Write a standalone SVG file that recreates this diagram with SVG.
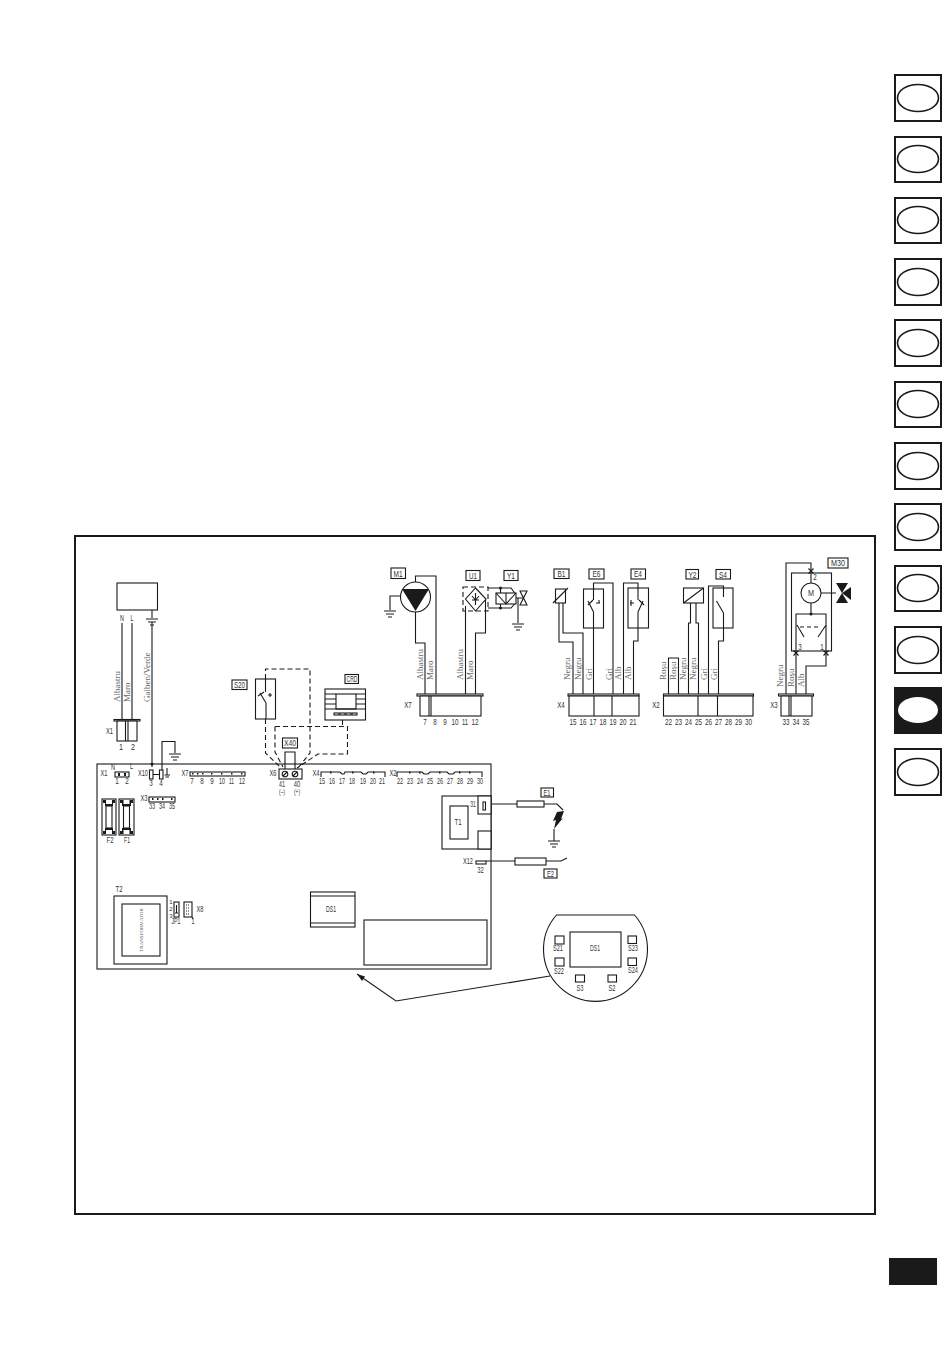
<svg xmlns="http://www.w3.org/2000/svg" width="950" height="1360" viewBox="0 0 950 1360">
<style>
.l{fill:none;stroke:#1a1a1a;stroke-width:1.1}
.b{fill:#fff;stroke:#1a1a1a;stroke-width:1.1}
.d{fill:none;stroke:#1a1a1a;stroke-width:1.1;stroke-dasharray:5 3}
.k{fill:#1a1a1a;stroke:none}
.tab{fill:#fff;stroke:#1a1a1a;stroke-width:2}
.el{fill:#fff;stroke:#1a1a1a;stroke-width:1.6}
text{font-family:"Liberation Sans","Arial",sans-serif;font-size:9px;fill:#333;text-anchor:middle}
.w{font-family:"Liberation Serif",serif;font-size:9px;fill:#666;text-anchor:start}
.s{font-size:8.500px}
</style>
<defs>
<g id="gnd"><path class="l" d="M-6 0H6M-4 3H4M-2 6H2"/></g>
<g id="cross"><path class="l" d="M-2.500 -2.500L2.500 2.500M-2.500 2.500L2.500 -2.500"/></g>
</defs>
<rect width="950" height="1360" fill="#fff"/>

<g id="tabs">
<rect class="tab" x="895" y="75" width="46" height="46"/><ellipse class="el" cx="918" cy="98" rx="20.500" ry="13.500"/>
<rect class="tab" x="895" y="137" width="46" height="45"/><ellipse class="el" cx="918" cy="159" rx="20.500" ry="13.500"/>
<rect class="tab" x="895" y="198" width="46" height="45"/><ellipse class="el" cx="918" cy="220" rx="20.500" ry="13.500"/>
<rect class="tab" x="895" y="259" width="46" height="46"/><ellipse class="el" cx="918" cy="282" rx="20.500" ry="13.500"/>
<rect class="tab" x="895" y="320" width="46" height="46"/><ellipse class="el" cx="918" cy="343" rx="20.500" ry="13.500"/>
<rect class="tab" x="895" y="382" width="46" height="45"/><ellipse class="el" cx="918" cy="404" rx="20.500" ry="13.500"/>
<rect class="tab" x="895" y="443" width="46" height="46"/><ellipse class="el" cx="918" cy="466" rx="20.500" ry="13.500"/>
<rect class="tab" x="895" y="504" width="46" height="46"/><ellipse class="el" cx="918" cy="527" rx="20.500" ry="13.500"/>
<rect class="tab" x="895" y="566" width="46" height="45"/><ellipse class="el" cx="918" cy="588" rx="20.500" ry="13.500"/>
<rect class="tab" x="895" y="627" width="46" height="46"/><ellipse class="el" cx="918" cy="650" rx="20.500" ry="13.500"/>
<rect x="894" y="687" width="48" height="47" class="k"/><ellipse cx="918" cy="710" rx="20" ry="13" fill="#fff"/>
<rect class="tab" x="895" y="749" width="46" height="46"/><ellipse class="el" cx="918" cy="772" rx="20.500" ry="13.500"/>
<rect x="889" y="1258" width="48" height="27" class="k"/>
</g>

<rect id="frame" x="75" y="536" width="800" height="678" fill="none" stroke="#1a1a1a" stroke-width="2"/>

<g id="connectors">
<path class="l" d="M122 623V720M132 623V720M152 622V767M162 771V741.500H175V753"/>
<use href="#gnd" x="175" y="754"/>
<path class="d" d="M265.500 719V753L280 767M275 726.500V752L283 767M265.500 679V669H310V753L298 768M275 726.500H347.500V754H318L297 768M342.500 720V726.500"/>
<path class="l" d="M285 769V752H295V769"/>
<path class="l" d="M390 610V596H400M415.500 611V643H425V694M415.500 583V576H436V694"/>
<use href="#gnd" x="390" y="611"/>
<path class="l" d="M465.500 606V694M485.500 600V633H475.500V694M488 588H511L515.500 594M488 608H511L515.500 603M500.500 588V593M500.500 604V608M515.500 598H523M518 598V623"/>
<use href="#gnd" x="518" y="624"/>
<path class="l" d="M559 603V642H573V694M563 603V633H583V694M593.500 694V628M593.500 589V583H613V694M623.500 694V583H638V588M638 628V641H633.500V694"/>
<path class="l" d="M668.500 694V658H678.500V694M690.500 603V623H688.500V694M696 603V623H698.500V694M708.500 694V586H723.500V597M723.500 613V641H718.500V694"/>
<path class="l" d="M786 694V563H811V583M796 651V694M826 651V666H806V694M811 603V614M821 593H836"/>
<circle class="k" cx="152" cy="764" r="1.500"/>
<circle class="k" cx="500.500" cy="588" r="1.500"/><circle class="k" cx="500.500" cy="608" r="1.500"/>
<path class="l" d="M485 804H517M544 804H557L563 810M554 829V841M486 861H515M546 861H561L567 858"/>
<use href="#gnd" x="554" y="841"/>
<path class="l" d="M550 976L396 1001L357 974"/><path class="k" d="M357 974L365 976.500L362 981Z"/>
</g>

<g id="mains"><rect class="b" x="117" y="583" width="40.500" height="27"/>
<path class="l" d="M152 610V618"/><use href="#gnd" x="152" y="619"/>
<text class="s" x="122" y="621" textLength="4" lengthAdjust="spacingAndGlyphs">N</text><text class="s" x="132" y="621" textLength="3" lengthAdjust="spacingAndGlyphs">L</text></g>

<g id="wire-labels">
<text class="w" transform="translate(120,702) rotate(-90)">Albastru</text>
<text class="w" transform="translate(129.500,702) rotate(-90)">Maro</text>
<text class="w" transform="translate(150,702) rotate(-90)">Galben/Verde</text>
<text class="w" transform="translate(423,680) rotate(-90)">Albastru</text>
<text class="w" transform="translate(433,680) rotate(-90)">Maro</text>
<text class="w" transform="translate(463,680) rotate(-90)">Albastru</text>
<text class="w" transform="translate(473,680) rotate(-90)">Maro</text>
<text class="w" transform="translate(570,680) rotate(-90)">Negru</text>
<text class="w" transform="translate(581,680) rotate(-90)">Negru</text>
<text class="w" transform="translate(592,680) rotate(-90)">Gri</text>
<text class="w" transform="translate(612,680) rotate(-90)">Gri</text>
<text class="w" transform="translate(621,680) rotate(-90)">Alb</text>
<text class="w" transform="translate(631,680) rotate(-90)">Alb</text>
<text class="w" transform="translate(666,680) rotate(-90)">Roșu</text>
<text class="w" transform="translate(676,680) rotate(-90)">Roșu</text>
<text class="w" transform="translate(686,680) rotate(-90)">Negru</text>
<text class="w" transform="translate(696,680) rotate(-90)">Negru</text>
<text class="w" transform="translate(707,680) rotate(-90)">Gri</text>
<text class="w" transform="translate(717,680) rotate(-90)">Gri</text>
<text class="w" transform="translate(783,687) rotate(-90)">Negru</text>
<text class="w" transform="translate(794,687) rotate(-90)">Roșu</text>
<text class="w" transform="translate(804,687) rotate(-90)">Alb</text>
</g>

<g id="X1-plug"><rect class="b" x="114" y="719.500" width="26" height="1.500"/><rect class="b" x="117" y="721" width="20" height="20"/><path class="l" d="M125.500 721V741M128 721V741"/>
<text x="109.500" y="734" textLength="7" lengthAdjust="spacingAndGlyphs">X1</text><text x="121" y="750" textLength="4" lengthAdjust="spacingAndGlyphs">1</text><text x="133" y="750" textLength="4" lengthAdjust="spacingAndGlyphs">2</text></g>

<g id="S20"><rect class="b" x="255.500" y="679" width="20" height="40"/>
<rect class="l" x="232" y="680" width="15" height="9.500"/><text class="s" x="239.500" y="688" textLength="11" lengthAdjust="spacingAndGlyphs">S20</text>
<path class="l" d="M265.500 679V692M266 703L260 693M258 696L264 692M268 695H272M270 693V697M266 703V719"/></g>

<g id="CRD"><rect class="b" x="325" y="689" width="40.500" height="31"/><rect class="b" x="336" y="694" width="20" height="15"/>
<path class="l" d="M325 694H336M356 694H365.500M325 699H336M356 699H365.500M325 704H336M356 704H365.500M325 709H365.500"/>
<rect class="l" x="334" y="713" width="5" height="2"/><rect class="l" x="340" y="713" width="5" height="2"/><rect class="l" x="346" y="713" width="5" height="2"/><rect class="l" x="352" y="713" width="5" height="2"/>
<rect class="l" x="345" y="674.500" width="13.500" height="9"/><text class="s" x="352" y="682" textLength="11" lengthAdjust="spacingAndGlyphs">CRD</text></g>

<g id="X40"><rect class="b" x="282.500" y="738" width="15" height="10"/><text class="s" x="290" y="746" textLength="12" lengthAdjust="spacingAndGlyphs">X40</text></g>

<g id="M1"><rect class="l" x="391" y="568" width="14.500" height="10.500"/><text class="s" x="398" y="576.500" textLength="9" lengthAdjust="spacingAndGlyphs">M1</text>
<circle class="b" cx="415.500" cy="597" r="15"/><path class="k" d="M402 589H429L415.500 611Z"/>
<rect class="b" x="417" y="694" width="66" height="2"/><rect class="b" x="420" y="696" width="61" height="20"/><path class="l" d="M429 696V716M431 696V716"/>
<text x="408" y="708" textLength="7.500" lengthAdjust="spacingAndGlyphs">X7</text><text x="425" y="725" textLength="3.500" lengthAdjust="spacingAndGlyphs">7</text><text x="435" y="725" textLength="3.500" lengthAdjust="spacingAndGlyphs">8</text><text x="445" y="725" textLength="3.500" lengthAdjust="spacingAndGlyphs">9</text><text x="455" y="725" textLength="7" lengthAdjust="spacingAndGlyphs">10</text><text x="465" y="725" textLength="6" lengthAdjust="spacingAndGlyphs">11</text><text x="475" y="725" textLength="7" lengthAdjust="spacingAndGlyphs">12</text></g>

<g id="U1"><rect class="l" x="466" y="570.500" width="14" height="10"/><text class="s" x="473" y="578.500" textLength="8" lengthAdjust="spacingAndGlyphs">U1</text>
<rect class="d" x="463" y="587" width="25" height="24"/>
<path class="b" d="M475.500 588L486 599L475.500 611L465.500 599Z"/><path class="l" d="M475.500 593V605M472 600H479M472 596L475.500 600L479 596"/></g>

<g id="Y1"><rect class="l" x="504" y="570.500" width="14" height="10"/><text class="s" x="511" y="578.500" textLength="8" lengthAdjust="spacingAndGlyphs">Y1</text>
<rect class="b" x="496" y="593" width="20" height="11"/><path class="l" d="M506 593V604M496 593L506 604M506 604L516 593"/>
<path class="l" d="M520 591H527L520 605H527Z"/></g>

<g id="B1"><rect class="l" x="554" y="569" width="15" height="9.500"/><text class="s" x="561.500" y="577" textLength="8" lengthAdjust="spacingAndGlyphs">B1</text>
<rect class="b" x="555.500" y="589" width="10" height="14"/><path class="l" d="M553 603L568 588"/></g>

<g id="E6"><rect class="l" x="589" y="569" width="15" height="10"/><text class="s" x="596.500" y="577" textLength="8" lengthAdjust="spacingAndGlyphs">E6</text>
<rect class="b" x="583.500" y="589" width="20" height="39"/><path class="l" d="M593.500 589V600M593.500 612L588 601M588 605L593 600M596 603H600M599 600V603M593.500 612V628"/></g>

<g id="E4"><rect class="l" x="631" y="569" width="14.500" height="10"/><text class="s" x="638" y="577" textLength="8" lengthAdjust="spacingAndGlyphs">E4</text>
<rect class="b" x="628" y="588" width="20.500" height="40"/><path class="l" d="M638 588V600M638 612L643 601M644 605L639 600M630 603H634M631 600V606M638 612V628"/></g>

<g id="X4-plug"><rect class="b" x="568" y="694" width="71" height="2"/><rect class="b" x="569" y="696" width="70" height="20"/><path class="l" d="M594 696V716M612 696V716"/>
<text x="561" y="708" textLength="7.500" lengthAdjust="spacingAndGlyphs">X4</text><text x="573" y="725" textLength="7" lengthAdjust="spacingAndGlyphs">15</text><text x="583" y="725" textLength="7" lengthAdjust="spacingAndGlyphs">16</text><text x="593" y="725" textLength="7" lengthAdjust="spacingAndGlyphs">17</text><text x="603" y="725" textLength="7" lengthAdjust="spacingAndGlyphs">18</text><text x="613" y="725" textLength="7" lengthAdjust="spacingAndGlyphs">19</text><text x="623" y="725" textLength="7" lengthAdjust="spacingAndGlyphs">20</text><text x="633" y="725" textLength="7" lengthAdjust="spacingAndGlyphs">21</text></g>

<g id="Y2"><rect class="l" x="686" y="569.500" width="12.500" height="9.500"/><text class="s" x="692.500" y="577.500" textLength="8" lengthAdjust="spacingAndGlyphs">Y2</text>
<rect class="b" x="683.500" y="588" width="20" height="15"/><path class="l" d="M683.500 603L703.500 588"/></g>

<g id="S4"><rect class="l" x="716" y="569.500" width="14.500" height="9.500"/><text class="s" x="723" y="577.500" textLength="8" lengthAdjust="spacingAndGlyphs">S4</text>
<rect class="l" x="713" y="588" width="20" height="40"/><path class="l" d="M716.500 601L723.500 613"/></g>

<g id="X2-plug"><rect class="b" x="663.500" y="694" width="90" height="2"/><rect class="b" x="663.500" y="696" width="89.500" height="20"/><path class="l" d="M698 696V716M717.500 696V716"/>
<text x="656" y="708" textLength="7.500" lengthAdjust="spacingAndGlyphs">X2</text><text x="668.500" y="725" textLength="7" lengthAdjust="spacingAndGlyphs">22</text><text x="678.500" y="725" textLength="7" lengthAdjust="spacingAndGlyphs">23</text><text x="688.500" y="725" textLength="7" lengthAdjust="spacingAndGlyphs">24</text><text x="698.500" y="725" textLength="7" lengthAdjust="spacingAndGlyphs">25</text><text x="708.500" y="725" textLength="7" lengthAdjust="spacingAndGlyphs">26</text><text x="718.500" y="725" textLength="7" lengthAdjust="spacingAndGlyphs">27</text><text x="728.500" y="725" textLength="7" lengthAdjust="spacingAndGlyphs">28</text><text x="738.500" y="725" textLength="7" lengthAdjust="spacingAndGlyphs">29</text><text x="748.500" y="725" textLength="7" lengthAdjust="spacingAndGlyphs">30</text></g>

<g id="M30"><rect class="l" x="828" y="558" width="20" height="10"/><text class="s" x="838" y="566" textLength="14" lengthAdjust="spacingAndGlyphs">M30</text>
<rect class="l" x="791.500" y="573" width="40" height="78"/>
<circle class="b" cx="811" cy="593" r="10"/><text class="s" x="811" y="596" textLength="6" lengthAdjust="spacingAndGlyphs">M</text>
<path class="k" d="M836 583H848L842 593ZM836 603H848L842 593ZM851 587V600L842 593Z"/>
<circle class="k" cx="811" cy="614" r="1.500"/>
<path class="l" d="M796 651V614H826V651M797 625L804 637M826 625L818 637M800 627H804M807 627H811M814 627H818"/>
<use href="#cross" x="811" y="571"/><use href="#cross" x="796" y="653"/><use href="#cross" x="826" y="653"/>
<text class="s" x="815" y="580" textLength="3.500" lengthAdjust="spacingAndGlyphs">2</text><text class="s" x="800" y="650" textLength="3.500" lengthAdjust="spacingAndGlyphs">3</text><text class="s" x="822" y="650" textLength="3.500" lengthAdjust="spacingAndGlyphs">1</text></g>

<g id="X3-plug"><rect class="b" x="778.500" y="694" width="35" height="2"/><rect class="b" x="781" y="696" width="31" height="20"/><path class="l" d="M789 696V716M791 696V716"/>
<text x="774" y="708" textLength="7.500" lengthAdjust="spacingAndGlyphs">X3</text><text x="786" y="725" textLength="7" lengthAdjust="spacingAndGlyphs">33</text><text x="796" y="725" textLength="7" lengthAdjust="spacingAndGlyphs">34</text><text x="806" y="725" textLength="7" lengthAdjust="spacingAndGlyphs">35</text></g>

<g id="board"><rect class="l" x="97" y="764" width="394" height="205"/></g>

<g id="board-X1"><text class="s" x="104" y="776" textLength="7" lengthAdjust="spacingAndGlyphs">X1</text><text class="s" x="113" y="770" textLength="4" lengthAdjust="spacingAndGlyphs">N</text><text class="s" x="131.500" y="769" textLength="3" lengthAdjust="spacingAndGlyphs">L</text>
<rect class="b" x="115" y="772" width="14" height="5"/><path class="k" d="M118 773h2v3h-2zM124 773h2v3h-2z"/>
<text class="s" x="117" y="784" textLength="3.500" lengthAdjust="spacingAndGlyphs">1</text><text class="s" x="127" y="784" textLength="3.500" lengthAdjust="spacingAndGlyphs">2</text></g>

<g id="board-X10"><text class="s" x="143" y="776" textLength="10" lengthAdjust="spacingAndGlyphs">X10</text><rect class="b" x="149.500" y="770" width="3.500" height="9"/><rect class="b" x="159.500" y="770" width="3.500" height="9"/><path class="l" d="M153 774.500H159.500M167 768V775"/><path class="l" d="M164.500 775H170M165.500 777H169"/>
<text class="s" x="151" y="786" textLength="3.500" lengthAdjust="spacingAndGlyphs">3</text><text class="s" x="161" y="786" textLength="3.500" lengthAdjust="spacingAndGlyphs">4</text></g>

<g id="board-X7"><text class="s" x="185" y="776" textLength="7" lengthAdjust="spacingAndGlyphs">X7</text><rect class="b" x="190" y="772" width="55" height="4"/>
<path class="k" d="M192 773h1.500v1.500h-1.500zM197 773h1.500v1.500h-1.500zM202 773h1.500v1.500h-1.500zM211 773h1.500v1.500h-1.500zM221 773h1.500v1.500h-1.500zM231 773h1.500v1.500h-1.500zM241 773h1.500v1.500h-1.500z"/>
<text class="s" x="192" y="784" textLength="3.500" lengthAdjust="spacingAndGlyphs">7</text><text class="s" x="202" y="784" textLength="3.500" lengthAdjust="spacingAndGlyphs">8</text><text class="s" x="212" y="784" textLength="3.500" lengthAdjust="spacingAndGlyphs">9</text><text class="s" x="222" y="784" textLength="6" lengthAdjust="spacingAndGlyphs">10</text><text class="s" x="231.500" y="784" textLength="5" lengthAdjust="spacingAndGlyphs">11</text><text class="s" x="242" y="784" textLength="6" lengthAdjust="spacingAndGlyphs">12</text></g>

<g id="board-X6"><text class="s" x="273" y="776" textLength="7" lengthAdjust="spacingAndGlyphs">X6</text><rect class="b" x="279" y="769" width="23" height="10"/><circle class="b" cx="285" cy="774" r="2.800"/><circle class="b" cx="295" cy="774" r="2.800"/><path class="l" d="M283 776L287 772M293 776L297 772"/>
<text class="s" x="282" y="787" textLength="6" lengthAdjust="spacingAndGlyphs">41</text><text class="s" x="297" y="787" textLength="6.500" lengthAdjust="spacingAndGlyphs">40</text><text x="282" y="794" style="font-size:7px" textLength="6" lengthAdjust="spacingAndGlyphs">(–)</text><text x="297" y="794" style="font-size:7px" textLength="6" lengthAdjust="spacingAndGlyphs">(+)</text></g>

<g id="board-X4"><text class="s" x="316" y="776" textLength="7" lengthAdjust="spacingAndGlyphs">X4</text><path class="l" d="M321 777V772H340L342 774H344L345 772H361L363 774H366L368 772H385V777"/>
<path class="k" d="M330 771.500h1.500v2h-1.500zM352 771.500h1.500v2h-1.500zM373 771.500h1.500v2h-1.500z"/>
<text class="s" x="322" y="784" textLength="6" lengthAdjust="spacingAndGlyphs">15</text><text class="s" x="332" y="784" textLength="6" lengthAdjust="spacingAndGlyphs">16</text><text class="s" x="342" y="784" textLength="6" lengthAdjust="spacingAndGlyphs">17</text><text class="s" x="352" y="784" textLength="6" lengthAdjust="spacingAndGlyphs">18</text><text class="s" x="363" y="784" textLength="6" lengthAdjust="spacingAndGlyphs">19</text><text class="s" x="373" y="784" textLength="6" lengthAdjust="spacingAndGlyphs">20</text><text class="s" x="382" y="784" textLength="6" lengthAdjust="spacingAndGlyphs">21</text></g>

<g id="board-X2"><text class="s" x="393" y="776" textLength="7" lengthAdjust="spacingAndGlyphs">X2</text><path class="l" d="M397 777V772H422L424 774H428L430 772H447L449 774H453L455 772H482V777"/>
<path class="k" d="M409 771.500h1.500v2h-1.500zM419 771.500h1.500v2h-1.500zM439 771.500h1.500v2h-1.500zM459 771.500h1.500v2h-1.500zM469 771.500h1.500v2h-1.500z"/>
<text class="s" x="400" y="784" textLength="6" lengthAdjust="spacingAndGlyphs">22</text><text class="s" x="410" y="784" textLength="6" lengthAdjust="spacingAndGlyphs">23</text><text class="s" x="420" y="784" textLength="6" lengthAdjust="spacingAndGlyphs">24</text><text class="s" x="430" y="784" textLength="6" lengthAdjust="spacingAndGlyphs">25</text><text class="s" x="440" y="784" textLength="6" lengthAdjust="spacingAndGlyphs">26</text><text class="s" x="450" y="784" textLength="6" lengthAdjust="spacingAndGlyphs">27</text><text class="s" x="460" y="784" textLength="6" lengthAdjust="spacingAndGlyphs">28</text><text class="s" x="470" y="784" textLength="6" lengthAdjust="spacingAndGlyphs">29</text><text class="s" x="480" y="784" textLength="6" lengthAdjust="spacingAndGlyphs">30</text></g>

<g id="board-X3"><text class="s" x="144" y="801" textLength="7" lengthAdjust="spacingAndGlyphs">X3</text><rect class="b" x="149" y="797" width="26" height="5"/>
<path class="k" d="M152 798h1.500v2h-1.500zM157 798h1.500v2h-1.500zM162 798h1.500v2h-1.500zM171 798h1.500v2h-1.500z"/>
<text class="s" x="152" y="809" textLength="6" lengthAdjust="spacingAndGlyphs">33</text><text class="s" x="162" y="809" textLength="6" lengthAdjust="spacingAndGlyphs">34</text><text class="s" x="172" y="809" textLength="6" lengthAdjust="spacingAndGlyphs">35</text></g>

<g id="F2"><rect class="b" x="102" y="799" width="14" height="36"/><rect class="l" x="106" y="806" width="6" height="22"/><path class="k" d="M103 800h3v4h6v-4h3v3h-2v3h-8v-3h-2zM103 834h3v-4h6v4h3v-3h-2v-3h-8v3h-2z"/><text class="s" x="110" y="843" textLength="7" lengthAdjust="spacingAndGlyphs">F2</text></g>
<g id="F1"><rect class="b" x="119" y="799" width="15" height="36"/><rect class="l" x="123.500" y="806" width="6" height="22"/><path class="k" d="M120 800h3.500v4h6v-4h3.500v3h-2v3h-9v-3h-2zM120 834h3.500v-4h6v4h3.500v-3h-2v-3h-9v3h-2z"/><text class="s" x="127" y="843" textLength="6" lengthAdjust="spacingAndGlyphs">F1</text></g>

<g id="T2"><text class="s" x="119" y="892" textLength="7" lengthAdjust="spacingAndGlyphs">T2</text><rect class="b" x="114" y="896" width="53" height="68"/><rect class="b" x="122" y="904" width="38" height="52"/>
<text transform="translate(143,930) rotate(-90)" style="font-size:5px;fill:#666;font-family:'Liberation Serif',serif">TRANSFORMATOR</text></g>

<g id="JP1"><rect class="b" x="174" y="902" width="5" height="15"/><path class="l" d="M176.500 905V913M175 913H178"/>
<text x="171" y="904" style="font-size:6px">1</text><text x="171" y="911" style="font-size:6px">2</text><text x="171" y="918" style="font-size:6px">3</text><text class="s" x="176" y="924" textLength="9" lengthAdjust="spacingAndGlyphs">JP1</text></g>
<g id="X8"><rect class="b" x="184" y="902" width="8" height="15"/><path class="l" d="M186 905H190M186 908H190M186 911H190M186 914H190" stroke-dasharray="1 1"/><path class="l" d="M192 917L193 919"/><text class="s" x="200" y="912" textLength="7" lengthAdjust="spacingAndGlyphs">X8</text><text class="s" x="193" y="924" textLength="3" lengthAdjust="spacingAndGlyphs">1</text></g>

<g id="DS1"><rect class="b" x="310.500" y="892" width="44.500" height="35"/><path class="l" d="M310.500 896H355M310.500 923H355"/><text class="s" x="331" y="912" textLength="10" lengthAdjust="spacingAndGlyphs">DS1</text></g>
<g id="display"><rect class="b" x="364" y="920" width="123" height="45"/></g>

<g id="T1"><rect class="b" x="442" y="796" width="49" height="53"/><rect class="b" x="450" y="806" width="18" height="33"/><text class="s" x="458" y="825" textLength="7" lengthAdjust="spacingAndGlyphs">T1</text>
<rect class="b" x="478" y="796" width="13" height="18"/><rect class="b" x="478" y="831" width="13" height="18"/>
<rect class="b" x="483" y="802" width="2.500" height="8"/><text class="s" x="473" y="807" textLength="5.500" lengthAdjust="spacingAndGlyphs">31</text></g>

<g id="E1"><rect class="b" x="517" y="801" width="27" height="6"/><rect class="b" x="541" y="788" width="12.500" height="9"/><text class="s" x="547" y="796" textLength="7" lengthAdjust="spacingAndGlyphs">E1</text>
<path class="k" d="M557 812L564 811L561 819L563 818L554 829L556 820L553 821Z"/></g>

<g id="E2"><text class="s" x="468" y="864" textLength="10" lengthAdjust="spacingAndGlyphs">X12</text><rect class="b" x="476" y="861" width="10" height="3"/><text class="s" x="480.500" y="873" textLength="6.500" lengthAdjust="spacingAndGlyphs">32</text>
<rect class="b" x="515" y="858" width="31" height="7"/><rect class="b" x="544" y="869" width="13" height="9"/><text class="s" x="550.500" y="877" textLength="7" lengthAdjust="spacingAndGlyphs">E2</text></g>

<g id="detail"><path class="b" d="M556.500 915H634.500A52 52 0 1 1 556.500 915Z"/>
<rect class="b" x="570" y="932" width="51" height="35"/><text class="s" x="595" y="951" textLength="10" lengthAdjust="spacingAndGlyphs">DS1</text>
<rect class="b" x="555" y="936" width="9" height="8"/><text class="s" x="558" y="951" textLength="10" lengthAdjust="spacingAndGlyphs">S21</text>
<rect class="b" x="555" y="958" width="9" height="8"/><text class="s" x="559" y="974" textLength="10" lengthAdjust="spacingAndGlyphs">S22</text>
<rect class="b" x="575.500" y="975" width="9" height="7"/><text class="s" x="580" y="991" textLength="7" lengthAdjust="spacingAndGlyphs">S3</text>
<rect class="b" x="608" y="975" width="8.500" height="7"/><text class="s" x="612" y="991" textLength="7" lengthAdjust="spacingAndGlyphs">S2</text>
<rect class="b" x="628" y="936" width="8.500" height="7.500"/><text class="s" x="633" y="951" textLength="10" lengthAdjust="spacingAndGlyphs">S23</text>
<rect class="b" x="628" y="958" width="8.500" height="7.500"/><text class="s" x="633" y="973" textLength="10" lengthAdjust="spacingAndGlyphs">S24</text></g>
</svg>
